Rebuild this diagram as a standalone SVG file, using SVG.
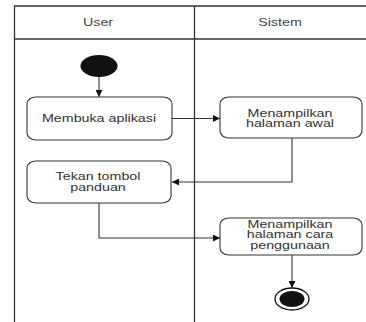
<svg xmlns="http://www.w3.org/2000/svg" width="366" height="322" viewBox="0 0 366 322">
  <defs>
    <style>
      .lane { fill: none; stroke: #333; stroke-width: 1.3; }
      .act { fill: #fff; stroke: #333; stroke-width: 1.1; }
      .edge { fill: none; stroke: #333; stroke-width: 1.1; }
      .t { font-family: "Liberation Sans", Arial, sans-serif; font-size: 10.5px; fill: #333; text-anchor: middle; }
      .t3 { font-size: 10px; }
      .h { font-family: "Liberation Sans", Arial, sans-serif; font-size: 11px; fill: #444; text-anchor: middle; }
    </style>
    <marker id="arrow" viewBox="0 0 10 10" refX="10" refY="5" markerWidth="7" markerHeight="7" markerUnits="userSpaceOnUse" orient="auto">
      <path d="M0,0 L10,5 L0,10 Z" fill="#111"/>
    </marker>
  </defs>

  <rect width="366" height="322" fill="#fff"/>

  <!-- swimlanes -->
  <g id="lanes">
    <line class="lane" x1="14" y1="6" x2="366" y2="6"/>
    <line class="lane" x1="14" y1="39" x2="366" y2="39"/>
    <line class="lane" x1="14.5" y1="6" x2="14.5" y2="322"/>
    <line class="lane" x1="194.5" y1="6" x2="194.5" y2="322"/>
    <text class="h" transform="translate(98 26) scale(1.3 1)">User</text>
    <text class="h" transform="translate(280 26) scale(1.3 1)">Sistem</text>
  </g>

  <!-- connectors -->
  <g id="connectors">
    <path class="edge" d="M99,77 L99,97" marker-end="url(#arrow)"/>
    <path class="edge" d="M172,118.5 L220,118.5" marker-end="url(#arrow)"/>
    <path class="edge" d="M292,138 L292,182 L172,182" marker-end="url(#arrow)"/>
    <path class="edge" d="M99,203 L99,238 L220,238" marker-end="url(#arrow)"/>
    <path class="edge" d="M292,255 L292,288" marker-end="url(#arrow)"/>
  </g>

  <g id="start">
    <ellipse cx="99" cy="66" rx="18.5" ry="11" fill="#111"/>
  </g>

  <g id="membuka-aplikasi">
    <rect class="act" x="27" y="97" width="145" height="43" rx="9" ry="7"/>
    <text class="t" transform="translate(99 122) scale(1.36 1)">Membuka aplikasi</text>
  </g>

  <g id="halaman-awal">
    <rect class="act" x="220" y="97" width="142" height="41" rx="9" ry="7"/>
    <text class="t" transform="translate(290 116.5) scale(1.36 1)"><tspan x="0" y="0">Menampilkan</tspan><tspan x="0" y="11">halaman awal</tspan></text>
  </g>

  <g id="tekan-panduan">
    <rect class="act" x="27" y="161" width="144" height="42" rx="9" ry="7"/>
    <text class="t" transform="translate(98 180) scale(1.36 1)"><tspan x="0" y="0">Tekan tombol</tspan><tspan x="0" y="11">panduan</tspan></text>
  </g>

  <g id="halaman-cara">
    <rect class="act" x="220" y="218" width="142" height="37" rx="9" ry="7"/>
    <text class="t t3" transform="translate(290 228) scale(1.43 1)"><tspan x="0" y="0">Menampilkan</tspan><tspan x="0" y="10.5">halaman cara</tspan><tspan x="0" y="21">penggunaan</tspan></text>
  </g>

  <g id="end">
    <ellipse cx="292" cy="299" rx="17" ry="11" fill="#fff" stroke="#111" stroke-width="1.3"/>
    <ellipse cx="292" cy="299" rx="12.5" ry="8" fill="#111"/>
  </g>
</svg>
